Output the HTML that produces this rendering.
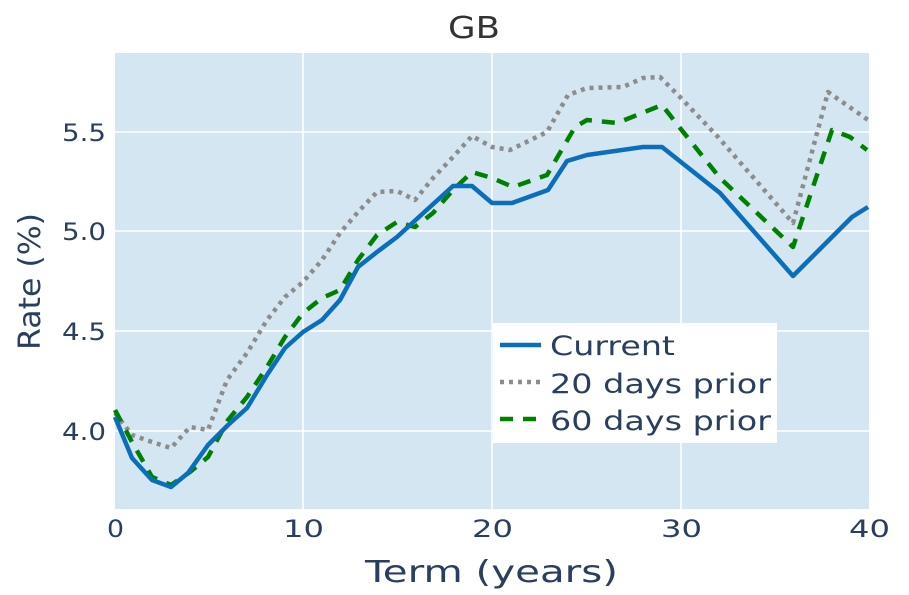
<!DOCTYPE html>
<html><head><meta charset="utf-8"><style>body{margin:0;background:#fff}svg{display:block}</style></head>
<body>
<svg width="909" height="595" viewBox="0 0 909 595" xmlns="http://www.w3.org/2000/svg" font-family="'DejaVu Sans','Liberation Sans',sans-serif">
<rect x="115" y="53" width="754" height="456" fill="#d4e6f1"/>
<g stroke="#fff" stroke-width="1.5">
<line x1="303" y1="53" x2="303" y2="509"/><line x1="492" y1="53" x2="492" y2="509"/><line x1="681" y1="53" x2="681" y2="509"/>
<line x1="115" y1="132" x2="869" y2="132"/><line x1="115" y1="231" x2="869" y2="231"/><line x1="115" y1="331" x2="869" y2="331"/><line x1="115" y1="431" x2="869" y2="431"/>
</g>
<g fill="none" stroke-width="4.5" stroke-linejoin="round">
<polyline stroke="#8c8c8c" stroke-dasharray="4 5" points="115,413 132,435 152,442 171,448 190,427 208,430 227,380 247,353 267,320 285,297 303,282 322,260 340,233 358,212 377,192 397,191 415,200 433,178 453,157 472,136 492,147 510,150 547,132 568,95 587,88 623,87 643,78 660,77 680,97 718,137 793,223 828,92 868,120"/>
<polyline stroke="#008000" stroke-dasharray="13 10" points="115,410 132,442 152,477 171,485 190,472 208,457 228,420 247,397 267,367 285,337 303,313 322,298 340,290 358,260 377,235 397,222 415,227 433,213 453,190 472,172 492,178 513,187 547,175 575,127 587,120 617,123 662,105 680,128 720,178 793,247 832,130 850,137 867,150"/>
<polyline stroke="#0a6ebd" points="115,417 132,458 152,480 171,487 188,473 208,445 228,425 247,408 267,375 285,348 303,332 322,320 340,300 358,267 377,252 397,237 453,186 472,186 492,203 512,203 548,190 567,161 587,155 643,147 662,147 720,193 793,276 852,217 868,207"/>
</g>
<rect x="493" y="323" width="284" height="120" fill="#fff"/>
<line x1="500" y1="345" x2="541" y2="345" stroke="#0a6ebd" stroke-width="4.5"/>
<line x1="500" y1="382" x2="541" y2="382" stroke="#8c8c8c" stroke-width="4.5" stroke-dasharray="4 5"/>
<line x1="500" y1="419" x2="541" y2="419" stroke="#008000" stroke-width="4.5" stroke-dasharray="13 10"/>
<g fill="#2a3f5f" font-size="27" lengthAdjust="spacingAndGlyphs">
<text x="550" y="355" textLength="125" lengthAdjust="spacingAndGlyphs">Current</text>
<text x="550" y="393" textLength="221" lengthAdjust="spacingAndGlyphs">20 days prior</text>
<text x="550" y="430" textLength="221" lengthAdjust="spacingAndGlyphs">60 days prior</text>
</g>
<g fill="#2a3f5f" font-size="24">
<text x="62" y="141" textLength="44" lengthAdjust="spacingAndGlyphs">5.5</text>
<text x="62" y="240" textLength="44" lengthAdjust="spacingAndGlyphs">5.0</text>
<text x="62" y="340" textLength="44" lengthAdjust="spacingAndGlyphs">4.5</text>
<text x="62" y="440" textLength="44" lengthAdjust="spacingAndGlyphs">4.0</text>
</g>
<g fill="#2a3f5f" font-size="24">
<text x="107" y="537" textLength="17" lengthAdjust="spacingAndGlyphs">0</text>
<text x="283" y="537" textLength="41" lengthAdjust="spacingAndGlyphs">10</text>
<text x="472" y="537" textLength="41" lengthAdjust="spacingAndGlyphs">20</text>
<text x="661" y="537" textLength="41" lengthAdjust="spacingAndGlyphs">30</text>
<text x="849" y="537" textLength="41" lengthAdjust="spacingAndGlyphs">40</text>
</g>
<text x="365" y="582" fill="#2a3f5f" font-size="30" textLength="253" lengthAdjust="spacingAndGlyphs">Term (years)</text>
<text transform="translate(40,350) rotate(-90)" fill="#2a3f5f" font-size="30" textLength="137" lengthAdjust="spacingAndGlyphs">Rate (%)</text>
<text x="448" y="38" fill="#333" font-size="30" textLength="52" lengthAdjust="spacingAndGlyphs">GB</text>
</svg>
</body></html>
